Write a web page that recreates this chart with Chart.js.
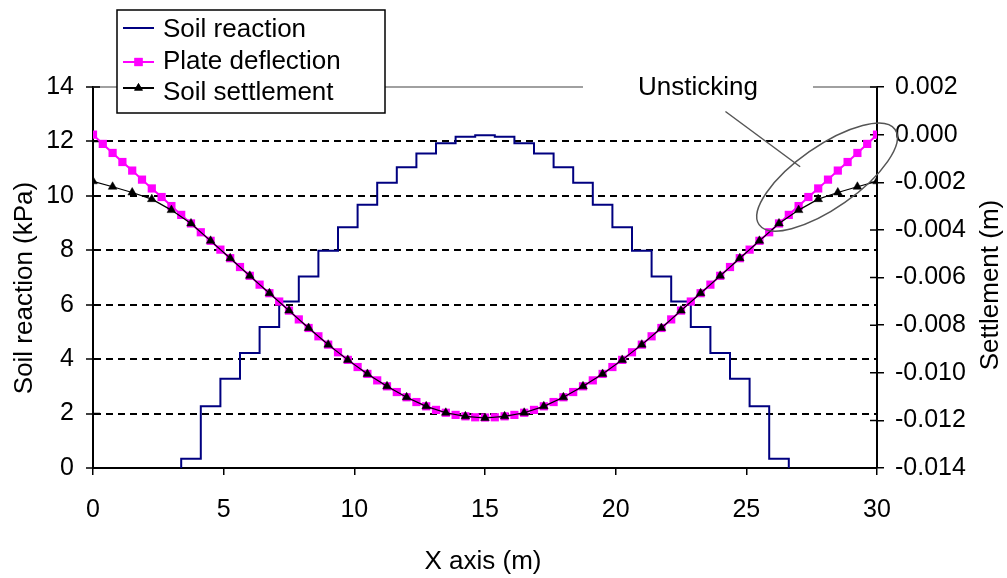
<!DOCTYPE html>
<html>
<head>
<meta charset="utf-8">
<title>Soil reaction, plate deflection and settlement</title>
<script src="https://cdn.jsdelivr.net/npm/chart.js@4.4.0/dist/chart.umd.min.js"></script>
<style>
  html, body { margin: 0; padding: 0; background: #fff; }
  #wrap { width: 1007px; height: 578px; position: relative; }
</style>
</head>
<body>
<div id="wrap"><canvas id="soil-chart"></canvas></div>
<script>
// Plate deflection nodes (m) and values (m), right axis
const deflectionX = [
  0, 0.375, 0.75, 1.125, 1.5, 1.875, 2.25, 2.625, 3, 3.375,
  3.75, 4.125, 4.5, 4.875, 5.25, 5.625, 6, 6.375, 6.75, 7.125,
  7.5, 7.875, 8.25, 8.625, 9, 9.375, 9.75, 10.125, 10.5, 10.875,
  11.25, 11.625, 12, 12.375, 12.75, 13.125, 13.5, 13.875, 14.25, 14.625,
  15, 15.375, 15.75, 16.125, 16.5, 16.875, 17.25, 17.625, 18, 18.375,
  18.75, 19.125, 19.5, 19.875, 20.25, 20.625, 21, 21.375, 21.75, 22.125,
  22.5, 22.875, 23.25, 23.625, 24, 24.375, 24.75, 25.125, 25.5, 25.875,
  26.25, 26.625, 27, 27.375, 27.75, 28.125, 28.5, 28.875, 29.25, 29.625, 30
];
const plateDeflection = [
  0, -0.00039, -0.00077, -0.00115, -0.00151, -0.00189, -0.00226, -0.00262, -0.00300, -0.00337,
  -0.00373, -0.00410, -0.00446, -0.00483, -0.00519, -0.00556, -0.00593, -0.00630, -0.00666, -0.00701,
  -0.00739, -0.00776, -0.00812, -0.00847, -0.00882, -0.00914, -0.00946, -0.00976, -0.01005, -0.01032,
  -0.01057, -0.01081, -0.01103, -0.01123, -0.01141, -0.01156, -0.01168, -0.01177, -0.01183, -0.01187,
  -0.01188,
  -0.01187, -0.01183, -0.01177, -0.01168, -0.01156, -0.01141, -0.01123, -0.01103, -0.01081, -0.01057,
  -0.01032, -0.01005, -0.00976, -0.00946, -0.00914, -0.00882, -0.00847, -0.00812, -0.00776, -0.00739,
  -0.00701, -0.00666, -0.00630, -0.00593, -0.00556, -0.00519, -0.00483, -0.00446, -0.00410, -0.00373,
  -0.00337, -0.00300, -0.00262, -0.00226, -0.00189, -0.00151, -0.00115, -0.00077, -0.00039, 0
];

// Soil settlement nodes (m) and values (m), right axis
const settlementX = [
  0, 0.75, 1.5, 2.25, 3, 3.75, 4.5, 5.25, 6, 6.75,
  7.5, 8.25, 9, 9.75, 10.5, 11.25, 12, 12.75, 13.5, 14.25,
  15, 15.75, 16.5, 17.25, 18, 18.75, 19.5, 20.25, 21, 21.75,
  22.5, 23.25, 24, 24.75, 25.5, 26.25, 27, 27.75, 28.5, 29.25, 30
];
const soilSettlement = [
  -0.00196, -0.00219, -0.00243, -0.00271, -0.00317, -0.00373, -0.00446, -0.00519, -0.00593, -0.00666,
  -0.00739, -0.00812, -0.00882, -0.00946, -0.01005, -0.01057, -0.01103, -0.01141, -0.01168, -0.01183,
  -0.01190,
  -0.01183, -0.01168, -0.01141, -0.01103, -0.01057, -0.01005, -0.00946, -0.00882, -0.00812, -0.00739,
  -0.00666, -0.00593, -0.00519, -0.00446, -0.00373, -0.00317, -0.00271, -0.00243, -0.00219, -0.00196
];

// Soil reaction per element (centre of element, m) and value (kPa), left axis
const reactionX = [
  3.75, 4.5, 5.25, 6, 6.75, 7.5, 8.25, 9, 9.75, 10.5,
  11.25, 12, 12.75, 13.5, 14.25, 15, 15.75, 16.5, 17.25, 18,
  18.75, 19.5, 20.25, 21, 21.75, 22.5, 23.25, 24, 24.75, 25.5, 26.25
];
const soilReaction = [
  0.34, 2.27, 3.28, 4.23, 5.18, 6.12, 7.04, 7.98, 8.85, 9.67,
  10.48, 11.05, 11.56, 11.93, 12.17, 12.23, 12.17, 11.93, 11.56, 11.05,
  10.48, 9.67, 8.85, 7.98, 7.04, 6.12, 5.18, 4.23, 3.28, 2.27, 0.34
];

// Tick labels
const xTicks = [0, 5, 10, 15, 20, 25, 30];
const leftTicks = [0, 2, 4, 6, 8, 10, 12, 14];
const rightTicks = [-0.014, -0.012, -0.010, -0.008, -0.006, -0.004, -0.002, 0, 0.002];

const FONT = "'Liberation Sans', Arial, sans-serif";
Chart.defaults.font.family = FONT;
Chart.defaults.color = '#000';

// each element value spans half a spacing on both sides of its centre
const halfStep = (reactionX[1] - reactionX[0]) / 2;
const reactionPts = [{ x: reactionX[0] - halfStep, y: 0 }, { x: reactionX[0] - halfStep, y: soilReaction[0] }];
reactionX.forEach((x, i) => reactionPts.push({ x: x, y: soilReaction[i] }));
const lastX = reactionX[reactionX.length - 1] + halfStep;
reactionPts.push({ x: lastX, y: soilReaction[soilReaction.length - 1] }, { x: lastX, y: 0 });

const pair = (xs, ys) => xs.map((x, i) => ({ x: x, y: ys[i] }));

// Annotation for the unsticking zone, in data units (x, left axis)
const note = { text: 'Unsticking', x: 23.15, y: 14, from: [24.2, 13.1], to: [27.06, 11.07], cx: 28.09, cy: 10.69 };

const decorPlugin = {
  id: 'decor',
  beforeDatasetsDraw(chart) {
    const { ctx, chartArea: a, scales } = chart;
    ctx.save();
    // gray top frame line
    ctx.strokeStyle = '#808080';
    ctx.lineWidth = 1.5;
    ctx.beginPath();
    ctx.moveTo(a.left, a.top);
    ctx.lineTo(a.right, a.top);
    ctx.stroke();
    // inner halves of the y-axis tick marks
    ctx.strokeStyle = '#000';
    ctx.lineWidth = 1.5;
    ctx.beginPath();
    scales.y.ticks.forEach(t => {
      const p = scales.y.getPixelForValue(t.value);
      ctx.moveTo(a.left, p); ctx.lineTo(a.left + 7, p);
    });
    scales.y2.ticks.forEach(t => {
      const p = scales.y2.getPixelForValue(t.value);
      ctx.moveTo(a.right - 7, p); ctx.lineTo(a.right, p);
    });
    ctx.stroke();
    ctx.restore();
  },
  afterDraw(chart) {
    const { ctx, chartArea: a, scales } = chart;
    const px = v => scales.x.getPixelForValue(v);
    const py = v => scales.y.getPixelForValue(v);
    ctx.save();

    // axis titles
    ctx.fillStyle = '#000';
    ctx.font = '26px ' + FONT;
    ctx.textAlign = 'center';
    ctx.textBaseline = 'middle';
    ctx.fillText('X axis (m)', (a.left + a.right) / 2 - 2, 562);
    ctx.save();
    ctx.translate(25, 288);
    ctx.rotate(-Math.PI / 2);
    ctx.fillText('Soil reaction (kPa)', 0, 0);
    ctx.restore();
    ctx.save();
    ctx.translate(991, 285);
    ctx.rotate(-Math.PI / 2);
    ctx.fillText('Settlement (m)', 0, 0);
    ctx.restore();

    // annotation label box covering the frame line
    const lx = px(note.x), ly = py(note.y);
    ctx.fillStyle = '#fff';
    ctx.fillRect(lx - 115, ly - 14, 230, 28);
    ctx.fillStyle = '#000';
    ctx.fillText(note.text, lx, ly + 1);

    // leader line and ellipse
    ctx.strokeStyle = '#555';
    ctx.lineWidth = 1.5;
    ctx.beginPath();
    ctx.moveTo(px(note.from[0]), py(note.from[1]));
    ctx.lineTo(px(note.to[0]), py(note.to[1]));
    ctx.stroke();
    ctx.beginPath();
    ctx.ellipse(px(note.cx), py(note.cy), 83, 31, -35 * Math.PI / 180, 0, 2 * Math.PI);
    ctx.stroke();

    // legend
    const box = { l: 117, t: 10, r: 385, b: 113 };
    ctx.fillStyle = '#fff';
    ctx.fillRect(box.l, box.t, box.r - box.l, box.b - box.t);
    ctx.strokeStyle = '#000';
    ctx.lineWidth = 1.5;
    ctx.strokeRect(box.l, box.t, box.r - box.l, box.b - box.t);
    const rows = [30, 62, 93];
    const lineRows = [28, 62, 88];
    chart.data.datasets.forEach(ds => {
      const ly2 = lineRows[ds.legendRow];
      ctx.strokeStyle = ds.borderColor;
      ctx.lineWidth = 2;
      ctx.beginPath();
      ctx.moveTo(123, ly2);
      ctx.lineTo(154, ly2);
      ctx.stroke();
      if (ds.pointRadius) {
        ctx.fillStyle = ds.pointBackgroundColor;
        Chart.helpers.drawPoint(ctx, { pointStyle: ds.pointStyle, radius: ds.pointRadius, borderWidth: 0, rotation: 0 }, 138.5, ly2);
        ctx.fill();
      }
      ctx.fillStyle = '#000';
      ctx.textAlign = 'left';
      ctx.font = '26px ' + FONT;
      ctx.fillText(ds.label, 163, rows[ds.legendRow]);
    });
    ctx.restore();
  }
};

const config = {
  type: 'line',
  data: {
    datasets: [
      {
        label: 'Soil settlement',
        legendRow: 2,
        data: pair(settlementX, soilSettlement),
        yAxisID: 'y2',
        borderColor: '#000',
        borderWidth: 1.2,
        pointStyle: 'triangle',
        pointRadius: 5,
        pointBackgroundColor: '#000',
        pointBorderColor: '#000',
        pointBorderWidth: 0.5,
        tension: 0,
        order: 0
      },
      {
        label: 'Plate deflection',
        legendRow: 1,
        data: pair(deflectionX, plateDeflection),
        yAxisID: 'y2',
        borderColor: '#ff00ff',
        borderWidth: 2,
        pointStyle: 'rect',
        pointRadius: 5.8,
        pointBackgroundColor: '#ff00ff',
        pointBorderWidth: 0,
        tension: 0,
        order: 1
      },
      {
        label: 'Soil reaction',
        legendRow: 0,
        data: reactionPts,
        yAxisID: 'y',
        borderColor: '#000080',
        borderWidth: 2,
        pointRadius: 0,
        stepped: 'middle',
        order: 2
      }
    ]
  },
  options: {
    responsive: true,
    maintainAspectRatio: false,
    animation: false,
    events: [],
    layout: { padding: { top: 87, left: 0, right: 0, bottom: 0 } },
    plugins: {
      legend: { display: false },
      title: { display: false },
      tooltip: { enabled: false }
    },
    scales: {
      x: {
        type: 'linear',
        min: 0,
        max: 30,
        afterBuildTicks: s => { s.ticks = xTicks.map(v => ({ value: v })); },
        afterFit: s => { s.height = 110; },
        ticks: { font: { size: 25 }, padding: 20, maxRotation: 0 },
        grid: { drawOnChartArea: false, color: '#000', tickLength: 7, lineWidth: 1.5 },
        border: { color: '#000', width: 2 }
      },
      y: {
        position: 'left',
        min: 0,
        max: 14,
        afterBuildTicks: s => { s.ticks = leftTicks.map(v => ({ value: v })); },
        afterFit: s => { s.width = 93; },
        ticks: { font: { size: 25 }, padding: 12 },
        grid: {
          color: c => (c.tick && (c.tick.value === 0 || c.tick.value === 14)) ? 'rgba(0,0,0,0)' : '#000',
          lineWidth: 2,
          tickColor: '#000',
          tickWidth: 1.5,
          tickLength: 7
        },
        border: { color: '#000', width: 2, dash: [7, 5] }
      },
      y2: {
        position: 'right',
        min: -0.014,
        max: 0.002,
        afterBuildTicks: s => { s.ticks = rightTicks.map(v => ({ value: v })); },
        afterFit: s => { s.width = 130; },
        ticks: {
          font: { size: 25 },
          padding: 11,
          callback: v => (Math.abs(v) < 1e-9 ? 0 : v).toFixed(3)
        },
        grid: { drawOnChartArea: false, color: '#000', tickLength: 7, lineWidth: 1.5 },
        border: { color: '#000', width: 2 }
      }
    }
  },
  plugins: [decorPlugin]
};

new Chart(document.getElementById('soil-chart'), config);
</script>
</body>
</html>
